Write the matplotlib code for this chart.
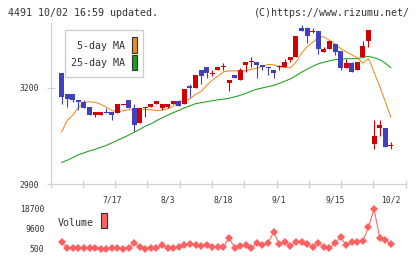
import matplotlib
matplotlib.use("Agg")
import matplotlib.pyplot as plt
from matplotlib.patches import Rectangle
import numpy as np

plt.rcParams['font.family'] = ['DejaVu Sans Mono']

title_left = "4491 10/02 16:59 updated."
title_right = "(C)https://www.rizumu.net/"

# daily candles (index 0 .. 60)
opens = [3090, 3245, 3180, 3180, 3160, 3155, 3140, 3115, 3115, 3125,
         3125, 3120, 3145, 3160, 3135, 3090, 3135, 3140, 3150, 3135,
         3140, 3150, 3157, 3150, 3205, 3200, 3255, 3265, 3245, 3255,
         3265, 3215, 3240, 3225, 3270, 3280, 3280, 3270, 3265, 3255,
         3265, 3265, 3285, 3295, 3385, 3385, 3375, 3375, 3310, 3320,
         3335, 3315, 3260, 3275, 3255, 3295, 3345, 3025, 3075, 3075,
         3020]
highs = [3090, 3245, 3180, 3180, 3160, 3160, 3140, 3125, 3125, 3135,
         3125, 3150, 3150, 3160, 3150, 3135, 3140, 3150, 3157, 3150,
         3150, 3157, 3160, 3195, 3210, 3240, 3255, 3265, 3255, 3265,
         3275, 3225, 3240, 3260, 3280, 3295, 3280, 3270, 3265, 3255,
         3270, 3290, 3295, 3360, 3395, 3390, 3385, 3375, 3325, 3345,
         3335, 3315, 3290, 3280, 3280, 3345, 3380, 3100, 3100, 3075,
         3030]
lows = [3090, 3150, 3140, 3155, 3130, 3135, 3115, 3110, 3115, 3120,
        3100, 3120, 3145, 3135, 3065, 3090, 3110, 3140, 3150, 3130,
        3135, 3148, 3142, 3150, 3170, 3200, 3210, 3230, 3235, 3255,
        3255, 3190, 3230, 3225, 3250, 3265, 3230, 3255, 3240, 3230,
        3255, 3265, 3280, 3295, 3375, 3340, 3370, 3305, 3310, 3320,
        3300, 3255, 3260, 3250, 3255, 3295, 3325, 3010, 3050, 3015,
        3010]
closes = [3090, 3170, 3165, 3160, 3155, 3135, 3115, 3125, 3125, 3120,
          3115, 3150, 3150, 3135, 3085, 3135, 3140, 3150, 3157, 3150,
          3150, 3157, 3142, 3195, 3200, 3240, 3235, 3245, 3245, 3265,
          3265, 3225, 3230, 3255, 3280, 3280, 3270, 3265, 3260, 3245,
          3265, 3280, 3295, 3360, 3375, 3360, 3375, 3320, 3320, 3345,
          3310, 3260, 3275, 3250, 3280, 3330, 3380, 3050, 3085, 3015,
          3020]

# moving averages, from candle 1 to 60
ma5 = [3062, 3098, 3114, 3139, 3153, 3156, 3154, 3148, 3139, 3129,
       3124, 3128, 3131, 3131, 3133, 3132, 3131, 3129, 3130, 3134,
       3142, 3156, 3160, 3165, 3179, 3188, 3207, 3223, 3235, 3249,
       3252, 3252, 3252, 3252, 3257, 3260, 3266, 3272, 3271, 3265,
       3262, 3262, 3279, 3307, 3327, 3341, 3355, 3358, 3347, 3335,
       3322, 3311, 3302, 3293, 3276, 3290, 3248, 3204, 3157, 3108]
ma25 = [2967, 2974, 2982, 2991, 2997, 3003, 3008, 3014, 3020, 3028,
        3036, 3044, 3052, 3061, 3070, 3080, 3087, 3097, 3106, 3114,
        3122, 3129, 3137, 3143, 3150, 3153, 3156, 3159, 3162, 3164,
        3167, 3171, 3176, 3182, 3189, 3195, 3199, 3203, 3207, 3213,
        3220, 3227, 3237, 3248, 3257, 3266, 3274, 3279, 3283, 3287,
        3288, 3290, 3290, 3290, 3294, 3297, 3293, 3287, 3276, 3262]

# volume, candle 1 to 60
volume = [3500, 1100, 800, 800, 800, 1100, 800, 350, 500, 1100,
          800, 350, 800, 3100, 1250, 350, 800, 1100, 2300, 800,
          1100, 1550, 2300, 2800, 2300, 2000, 2300, 1550, 1250, 1250,
          5650, 1100, 2000, 2300, 800, 3400, 2300, 3100, 8400, 2600,
          3800, 1850, 3800, 3500, 2800, 1250, 3400, 1250, 800, 3400,
          5800, 2300, 3500, 3500, 4300, 10400, 18700, 5650, 4600, 2800]

date_labels = ["7/17", "8/3", "8/18", "9/1", "9/15", "10/2"]
date_index = [10, 20, 30, 40, 50, 60]
price_ticks = [2900, 3200]
vol_ticks = [500, 9600, 18700]

UP = "#d20000"
DOWN = "#4040c0"
ORANGE = "#f08c1c"
GREEN = "#1aa01a"
PINK = "#ff6060"
AXC = "#d0d0d0"
TXT = "#333333"

W, H = 420, 259
fig = plt.figure(figsize=(W / 100, H / 100), dpi=100)
x0, x1 = 50.5, 405.7
ax = fig.add_axes([x0 / W, 1 - 184 / H, (x1 - x0) / W, (184 - 23.3) / H])
ax.set_xlim(-1, 62.67)
ax.set_ylim(2900, 3400)

idx = np.arange(len(opens))
o = np.array(opens, float)
c = np.array(closes, float)
up = c >= o
cols = np.where(up, UP, DOWN)

ma_x = np.arange(1, len(opens))
ax.plot(ma_x, ma25, color=GREEN, lw=0.75, zorder=2)
ax.plot(ma_x, ma5, color=ORANGE, lw=0.75, zorder=2)

ax.vlines(idx, lows, highs, colors=cols, lw=0.8, zorder=3)
bottoms = np.minimum(o, c)
heights = np.maximum(np.abs(c - o), 2.5)
ax.bar(idx, heights, bottom=bottoms - np.where(np.abs(c - o) < 2.5, 1.25, 0),
       width=0.9, color=cols, lw=0, zorder=4)

for s in ["top", "right"]:
    ax.spines[s].set_visible(False)
for s in ["left", "bottom"]:
    ax.spines[s].set_color(AXC)
    ax.spines[s].set_linewidth(0.9)
ax.set_yticks(price_ticks)
ax.set_yticklabels([str(t) for t in price_ticks])
ax.tick_params(axis="y", direction="inout", length=5.8, width=0.9, color=AXC,
               labelsize=5.8, labelcolor=TXT, pad=5.2)
ax.set_xticks(np.linspace(-1, 62.67, 12))
ax.set_xticklabels([])
ax.set_xticks(date_index, minor=True)
ax.set_xticklabels(date_labels, minor=True)
ax.tick_params(axis="x", which="major", direction="inout", length=5.8, width=0.9, color=AXC)
ax.tick_params(axis="x", which="minor", length=0, labelsize=5.8, labelcolor=TXT, pad=8)
ax.patch.set_alpha(0)

# volume panel
axv = fig.add_axes([x0 / W, 6 / H, (x1 - x0) / W, 50 / H])
axv.set_xlim(-1, 62.67)
axv.set_ylim(-1320, 21430)
axv.plot(ma_x, volume, color=PINK, lw=0.75, marker="D", markersize=3.8,
         markeredgewidth=0)
for s in axv.spines.values():
    s.set_visible(False)
axv.set_xticks([])
axv.set_yticks(vol_ticks)
axv.set_yticklabels([str(t) for t in vol_ticks])
axv.tick_params(axis="y", length=0, labelsize=5.8, labelcolor=TXT, pad=4.3)
axv.patch.set_alpha(0)

# overlay in pixel coords for headers and legends
ov = fig.add_axes([0, 0, 1, 1])
ov.set_xlim(0, W)
ov.set_ylim(H, 0)
ov.axis("off")
ov.text(8.3, 12.5, title_left, fontsize=7.2, color=TXT, ha="left", va="center")
ov.text(410, 12.5, title_right, fontsize=7.2, color=TXT, ha="right", va="center")

ov.add_patch(Rectangle((65, 30), 78.3, 46.7, fc="white", ec="#cccccc", lw=0.9))
ov.text(125, 46, "5-day MA", fontsize=7.2, color=TXT, ha="right", va="center")
ov.text(125, 63, "25-day MA", fontsize=7.2, color=TXT, ha="right", va="center")
ov.add_patch(Rectangle((131.5, 37), 5.5, 16, fc=ORANGE, ec="#333333", lw=0.8))
ov.add_patch(Rectangle((131.5, 54.5), 5.5, 15.5, fc=GREEN, ec="#333333", lw=0.8))

ov.text(58, 222.5, "Volume", fontsize=7.2, color=TXT, ha="left", va="center")
ov.add_patch(Rectangle((101, 213), 6.3, 15.3, fc=PINK, ec="#333333", lw=0.8))

fig.savefig("out.png", dpi=100)
